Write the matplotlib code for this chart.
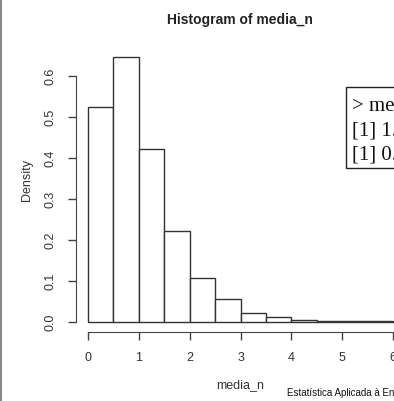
import matplotlib
matplotlib.use("Agg")
import matplotlib.pyplot as plt
from matplotlib.patches import Rectangle
from matplotlib.lines import Line2D

# Histograma (densidade) de media_n
bordas = [0, 0.5, 1, 1.5, 2, 2.5, 3, 3.5, 4, 4.5, 5, 5.5, 6, 6.5, 7]
densidade = [0.524, 0.645, 0.420, 0.222, 0.107, 0.055, 0.022, 0.012, 0.005,
             0.002, 0.001, 0.001, 0.0005, 0.0005]
y_ticks = [0.0, 0.1, 0.2, 0.3, 0.4, 0.5, 0.6]
x_ticks = [0, 1, 2, 3, 4, 5, 6, 7]
console_linhas = ["> mean(media_n); var(media_n)", "[1] 1.0297", "[1] 0.5412"]

W, H = 394, 402
fig = plt.figure(figsize=(W / 100, H / 100), dpi=100)
plt.rcParams['font.family'] = ['Liberation Sans', 'DejaVu Sans']

# posição dos eixos em pixels (o gráfico continua além da borda direita)
esq, dir_, topo, base = 76, 444, 52, 333
ax = fig.add_axes([esq / W, 1 - base / H, (dir_ - esq) / W, (base - topo) / H])
ax.set_xlim(-0.236, 7.0)
ax.set_ylim(-0.025, 0.66)

larguras = [bordas[i + 1] - bordas[i] for i in range(len(densidade))]
ax.bar(bordas[:-1], densidade, width=larguras, align="edge",
       facecolor="white", edgecolor="#333333", linewidth=1.0)

cor_eixo = "#444444"
for s in ["top", "right"]:
    ax.spines[s].set_visible(False)
ax.spines["left"].set_bounds(0, 0.6)
ax.spines["bottom"].set_bounds(0, 7)
ax.spines["left"].set_color(cor_eixo)
ax.spines["bottom"].set_color(cor_eixo)
ax.spines["bottom"].set_position(("data", -0.025))

ax.set_yticks(y_ticks)
ax.set_yticklabels([f"{v:.1f}" for v in y_ticks], rotation=90, va="center")
ax.set_xticks(x_ticks)
ax.set_xticklabels([str(v) for v in x_ticks])
ax.tick_params(axis="both", colors=cor_eixo, labelcolor="#333333",
               labelsize=9, length=6, width=1.0)
ax.tick_params(axis="y", pad=8)
ax.tick_params(axis="x", pad=8)

fig.text(240 / W, 1 - 20 / H, "Histogram of media_n", ha="center", va="center",
         fontsize=10, fontweight="bold", color="#222222")
fig.text(27 / W, 1 - 180 / H, "Density", ha="center", va="center",
         rotation=90, fontsize=9, color="#333333")
fig.text(240 / W, 1 - 385 / H, "media_n", ha="center", va="center",
         fontsize=9, color="#333333")
fig.text(287 / W, 1 - 393 / H, "Estatística Aplicada à Engenharia",
         ha="left", va="center", fontsize=7, color="#111111")

# caixa com a saída do console (cortada na borda direita, como no original)
fig.patches.append(Rectangle((346 / W, 1 - 169 / H), 100 / W, 81 / H,
                             transform=fig.transFigure, facecolor="white",
                             edgecolor="#222222", linewidth=1.0, zorder=5))
for i, linha in enumerate(console_linhas):
    fig.text(352 / W, 1 - (107 + 24 * i) / H, linha, ha="left", va="center",
             fontsize=15, family=["Liberation Serif", "DejaVu Serif"],
             color="#111111", zorder=6)

# borda cinza à esquerda
fig.add_artist(Line2D([0.5 / W, 0.5 / W], [0, 1], transform=fig.transFigure,
                      color="#888888", linewidth=1.5))

fig.savefig("out.png", dpi=100)
